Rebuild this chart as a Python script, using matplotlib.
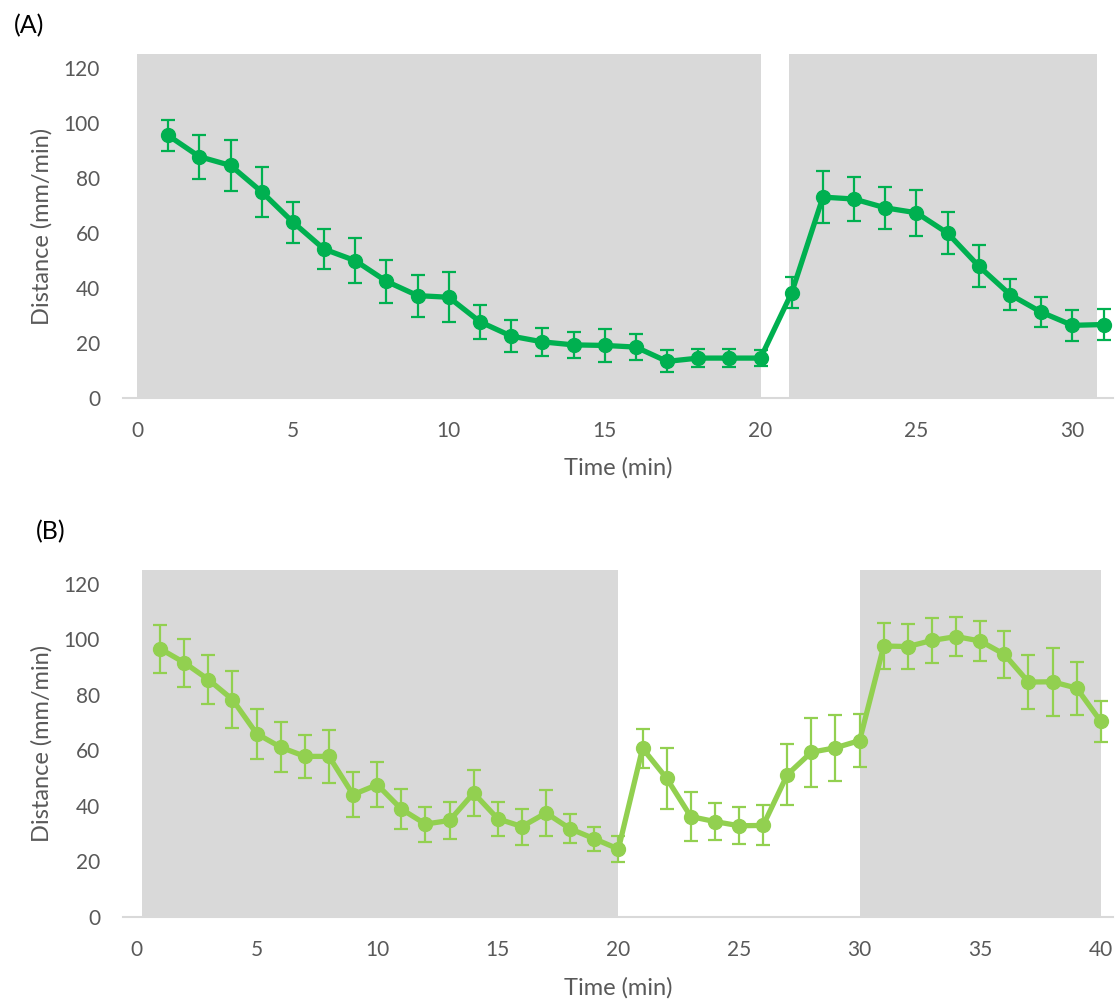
import numpy as np
import matplotlib.pyplot as plt

plt.rcParams['font.family'] = ['Lato', 'DejaVu Sans']

# panel A
time_a = list(range(1, 32))
dist_a = [95.4, 87.7, 84.5, 74.9, 63.9, 54.1, 49.9, 42.4, 37.2, 36.6,
          27.7, 22.5, 20.4, 19.3, 19.1, 18.5, 13.3, 14.5, 14.5, 14.5,
          38.3, 73.0, 72.3, 69.1, 67.3, 59.9, 47.9, 37.6, 31.2, 26.4, 26.7]
err_a = [5.6, 8.0, 9.3, 9.2, 7.4, 7.4, 8.1, 7.7, 7.6, 9.1,
         6.1, 5.9, 5.1, 4.8, 6.1, 4.6, 4.0, 3.3, 3.2, 3.0,
         5.7, 9.4, 7.9, 7.6, 8.3, 7.6, 7.6, 5.8, 5.5, 5.6, 5.6]
shade_a = [(0, 20), (20.9, 30.8)]

# panel B
time_b = list(range(1, 41))
dist_b = [96.6, 91.6, 85.5, 78.3, 66.0, 61.1, 57.8, 57.8, 44.0, 47.6,
          38.8, 33.4, 34.7, 44.6, 35.3, 32.5, 37.4, 31.7, 28.1, 24.4,
          60.7, 49.9, 36.1, 34.3, 32.8, 32.9, 51.2, 59.3, 60.9, 63.5,
          97.6, 97.4, 99.6, 101.0, 99.4, 94.6, 84.6, 84.7, 82.4, 70.4]
err_b = [8.7, 8.7, 8.8, 10.2, 9.0, 9.1, 7.7, 9.6, 8.0, 8.2,
         7.2, 6.3, 6.6, 8.2, 6.2, 6.5, 8.4, 5.3, 4.4, 4.8,
         7.0, 11.0, 8.7, 6.6, 6.6, 7.2, 11.0, 12.4, 11.8, 9.5,
         8.2, 8.1, 8.2, 7.0, 7.3, 8.5, 9.7, 12.3, 9.6, 7.4]
shade_b = [(0.25, 20), (30, 40)]

fig = plt.figure(figsize=(11.16, 10), dpi=100)
axA = fig.add_axes([0.1102, 0.602, 0.887, 0.344])
axB = fig.add_axes([0.1102, 0.0833, 0.887, 0.3467])

panels = [
    (axA, time_a, dist_a, err_a, shade_a, '#00B050', (-0.45, 31.3), range(0, 31, 5), -0.2035),
    (axB, time_b, dist_b, err_b, shade_b, '#92D050', (-0.54, 40.5), range(0, 41, 5), -0.2057),
]

for ax, t, d, e, shade, col, xl, xt, xly in panels:
    for s0, s1 in shade:
        ax.axvspan(s0, s1, ymin=0, ymax=1, color='#D9D9D9', lw=0, zorder=0)
    ax.errorbar(t, d, yerr=e, color=col, lw=3.8, marker='o', ms=10,
                ecolor=col, elinewidth=1.6, capsize=5, capthick=1.6, zorder=3)
    ax.set_xlim(*xl)
    ax.set_ylim(0, 125)
    ax.set_xticks(list(xt))
    ax.set_yticks(range(0, 121, 20))
    for sp in ['top', 'right', 'left']:
        ax.spines[sp].set_visible(False)
    ax.spines['bottom'].set_color('#D9D9D9')
    ax.spines['bottom'].set_linewidth(1.5)
    ax.tick_params(axis='both', length=0, labelsize=15, colors='#595959')
    ax.tick_params(axis='y', pad=16.5)
    ax.tick_params(axis='x', pad=16.5)
    ax.set_xlabel('Time (min)', fontsize=17, color='#595959', va='center')
    ax.set_ylabel('Distance (mm/min)', fontsize=17, color='#595959', va='center')
    ax.xaxis.set_label_coords(0.5, xly)
    ax.yaxis.set_label_coords(-0.0818, 0.5)

fig.text(0.026, 0.974, '(A)', fontsize=18, va='center', ha='center')
fig.text(0.0457, 0.468, '(B)', fontsize=18, va='center', ha='center')

plt.savefig('out.png', dpi=100)
